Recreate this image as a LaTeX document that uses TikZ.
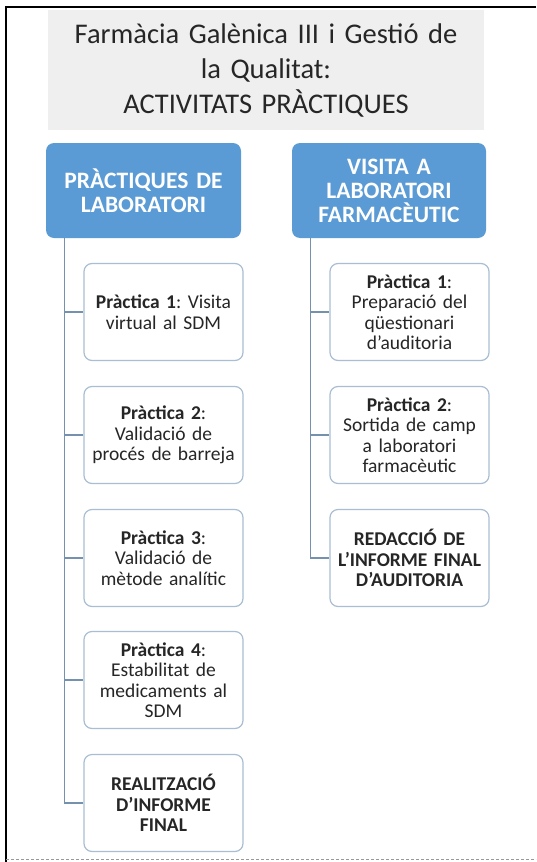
\documentclass[tikz,border=0pt]{standalone}
\usepackage{fontspec}
\setmainfont{Carlito}
\usetikzlibrary{shapes}
\definecolor{blauFort}{HTML}{5B9BD5}
\definecolor{grisTitol}{HTML}{EFEFEF}
\definecolor{vora}{HTML}{A9BED3}
\definecolor{linia}{HTML}{7591AD}
\tikzstyle{titol}=[minimum width=436pt,minimum height=120pt,
rectangle,fill=grisTitol,text=black!85,
font=\fontsize{28.5}{35}\selectfont,text width=420pt,text centered]
\tikzstyle{bloc}=[minimum width=195pt,minimum height=95pt,
rectangle,rounded corners=8pt,fill=blauFort,
text=white,font=\fontsize{23.5}{24}\selectfont\bfseries,text width=185pt,text centered]
\tikzstyle{tasca}=[minimum width=159pt,minimum height=97pt,
rectangle,rounded corners=8pt,draw=vora,line width=1.2pt,inner xsep=1pt,
fill=white,text=black!85,font=\fontsize{19.5}{20.5}\selectfont\frenchspacing,text width=156pt,text centered]
\tikzstyle{lligam}=[draw=linia,line width=1.3pt]
\begin{document}
\begin{tikzpicture}[x=1pt,y=-1pt]
\useasboundingbox (0,0) rectangle (536,862);
\draw[line width=2pt] (6,862) -- (6,7) -- (536,7);
\draw[gray!80,dash pattern=on 3pt off 2pt] (6,859) -- (536,859);

\node[titol] (T) at (266,70) {Farmàcia Galènica III i Gestió de\\ la Qualitat:\\ ACTIVITATS PRÀCTIQUES};

\node[bloc] (PL) at (143.5,190.5) {PRÀCTIQUES DE\\ LABORATORI};
\node[bloc,minimum width=194pt] (VL) at (389,190.5) {VISITA A\\ LABORATORI\\ FARMACÈUTIC};

\node[tasca] (P1) at (163.5,312) {\textbf{Pràctica 1}: Visita\\ virtual al SDM};
\node[tasca] (P2) at (163.5,435) {\textbf{Pràctica 2}:\\ Validació de\\ procés de barreja};
\node[tasca] (P3) at (163.5,558) {\textbf{Pràctica 3}:\\ Validació de\\ mètode analític};
\node[tasca] (P4) at (163.5,680) {\textbf{Pràctica 4}:\\ Estabilitat de\\ medicaments al\\ SDM};
\node[tasca] (P5) at (163.5,803) {\textbf{REALITZACIÓ\\ D’INFORME\\ FINAL}};

\node[tasca] (V1) at (409.5,312) {\textbf{Pràctica 1}:\\ Preparació del\\ qüestionari\\ d’auditoria};
\node[tasca] (V2) at (409.5,435) {\textbf{Pràctica 2}:\\ Sortida de camp\\ a laboratori\\ farmacèutic};
\node[tasca] (V3) at (409.5,558) {\textbf{REDACCIÓ DE\\ L’INFORME FINAL\\ D’AUDITORIA}};

\coordinate (eixL) at ([xshift=19pt]PL.south west);
\coordinate (eixV) at ([xshift=19pt]VL.south west);
\draw[lligam] (eixL) |- (P1.west);
\draw[lligam] (eixL) |- (P2.west);
\draw[lligam] (eixL) |- (P3.west);
\draw[lligam] (eixL) |- (P4.west);
\draw[lligam] (eixL) |- (P5.west);
\draw[lligam] (eixV) |- (V1.west);
\draw[lligam] (eixV) |- (V2.west);
\draw[lligam] (eixV) |- (V3.west);
\end{tikzpicture}
\end{document}
